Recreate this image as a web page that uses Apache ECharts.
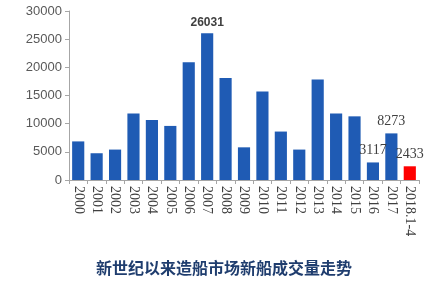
<!DOCTYPE html>
<html><head><meta charset="utf-8">
<script src="https://cdn.jsdelivr.net/npm/echarts@6/dist/echarts.min.js"></script>
<style>html,body{margin:0;padding:0;background:#fff}#c{width:448px;height:282px}</style>
</head><body><div id="c"></div>
<script>
const categories = ['2000','2001','2002','2003','2004','2005','2006','2007','2008','2009','2010','2011','2012','2013','2014','2015','2016','2017','2018.1-4'];
const values = [6850, 4750, 5400, 11800, 10650, 9600, 20900, 26031, 18100, 5800, 15700, 8600, 5400, 17850, 11800, 11300, 3117, 8273, 2433];
const labeledCategories = ['2007','2016','2017','2018.1-4'];
const highlightCategory = '2018.1-4';
const yTicks = [0, 5000, 10000, 15000, 20000, 25000, 30000];
const title = '新世纪以来造船市场新船成交量走势';

const chart = echarts.init(document.getElementById('c'));
chart.setOption({
  animation: false,
  title: {
    text: title, left: 'center', top: 255,
    textStyle: {fontFamily: 'Noto Sans CJK SC', fontWeight: 'bold', fontSize: 16, color: '#1f3d6e'}
  },
  grid: {left: 69, right: 29, top: 11, bottom: 102},
  xAxis: {
    type: 'category', data: categories,
    axisLine: {lineStyle: {color: '#a6a6a6'}},
    axisTick: {show: true, alignWithLabel: false, length: 4, lineStyle: {color: '#a6a6a6'}},
    axisLabel: {rotate: -90, interval: 0, margin: 6, color: '#404040', fontFamily: 'Liberation Serif', fontSize: 14}
  },
  yAxis: {
    type: 'value', min: yTicks[0], max: yTicks[yTicks.length-1], interval: 5000,
    axisLine: {show: true, lineStyle: {color: '#a6a6a6'}},
    axisTick: {show: true, length: 4, lineStyle: {color: '#a6a6a6'}},
    splitLine: {show: false},
    axisLabel: {color: '#595959', fontFamily: 'Liberation Sans', fontSize: 13, margin: 7, formatter: v => String(v)}
  },
  series: [{
    type: 'bar', barCategoryGap: '34%',
    data: categories.map((c, i) => ({
      value: values[i],
      itemStyle: {color: c === highlightCategory ? '#ff0000' : '#1f5bb4'},
      label: {
        show: labeledCategories.includes(c), position: 'top', distance: 5,
        color: '#404040',
        fontFamily: c === '2007' ? 'Liberation Sans' : 'Liberation Serif',
        fontWeight: c === '2007' ? 'bold' : 'normal',
        fontSize: c === '2007' ? 12 : 14
      }
    }))
  }]
});
</script></body></html>
